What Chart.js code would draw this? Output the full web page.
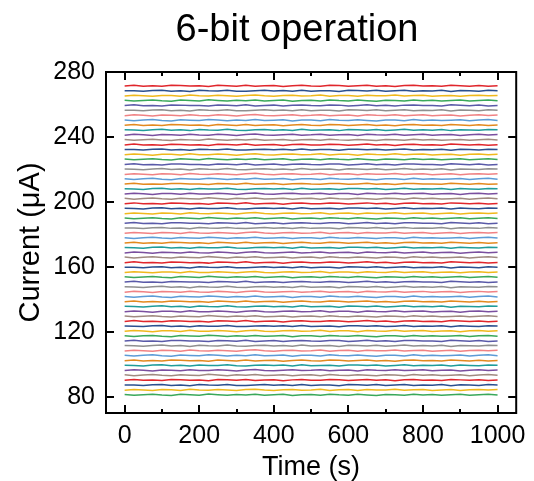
<!DOCTYPE html>
<html>
<head>
<meta charset="utf-8">
<title>6-bit operation</title>
<script src="https://cdn.jsdelivr.net/npm/chart.js@4"></script>
<style>
  html, body { margin: 0; padding: 0; background: #fff; }
  #wrap { width: 534px; height: 481px; }
</style>
</head>
<body>
<div id="wrap"><canvas id="chart" width="534" height="481"></canvas></div>
<script>
// sampling times (s)
const times = [0, 25, 50, 75, 100, 125, 150, 175, 200, 225, 250, 275, 300, 325, 350, 375, 400,
  425, 450, 475, 500, 525, 550, 575, 600, 625, 650, 675, 700, 725, 750, 775, 800, 825, 850,
  875, 900, 925, 950, 975, 1000];

// 64 current levels (uA), bottom to top
const levels = [81.2, 84.2, 87.2, 90.3, 93.3, 96.3, 99.3, 102.3, 105.4, 108.4, 111.4, 114.4,
  117.4, 120.5, 123.5, 126.5, 129.5, 132.5, 135.6, 138.6, 141.6, 144.6, 147.6, 150.7, 153.7,
  156.7, 159.7, 162.7, 165.8, 168.8, 171.8, 174.8, 177.8, 180.9, 183.9, 186.9, 189.9, 192.9,
  196.0, 199.0, 202.0, 205.0, 208.0, 211.1, 214.1, 217.1, 220.1, 223.1, 226.2, 229.2, 232.2,
  235.2, 238.2, 241.3, 244.3, 247.3, 250.3, 253.3, 256.4, 259.4, 262.4, 265.4, 268.4, 271.5];

// read-out fluctuation around each level (uA)
const ripple0 = [0.2, -0.3, 0.1, 0.4, -0.1, -0.4, 0.3, 0.0, -0.2, 0.5, 0.1, -0.3, 0.2, -0.1, 0.4,
  -0.2, 0.0, 0.3, -0.4, 0.1, 0.2, -0.3, 0.4, 0.0, -0.2, 0.3, -0.1, -0.4, 0.2, 0.1, -0.3, 0.4,
  -0.1, 0.2, -0.2, 0.0, 0.3, -0.3, 0.1, 0.4, -0.1];
const ripple1 = [-0.2, 0.3, 0.0, -0.4, 0.2, 0.1, -0.3, 0.4, -0.1, -0.2, 0.3, 0.0, -0.4, 0.2, 0.5,
  -0.1, -0.3, 0.1, 0.3, -0.2, 0.0, 0.4, -0.3, 0.1, 0.2, -0.4, 0.3, 0.0, -0.1, 0.4, -0.2, 0.1,
  0.3, -0.3, 0.0, 0.2, -0.4, 0.1, 0.3, -0.1, 0.2];
const ripple2 = [0.1, 0.0, -0.3, 0.2, 0.4, -0.2, 0.1, -0.4, 0.3, 0.0, -0.1, 0.4, -0.2, -0.3, 0.1,
  0.3, -0.1, 0.2, -0.3, 0.4, -0.2, 0.0, 0.1, -0.4, 0.3, 0.2, -0.1, 0.3, -0.3, 0.0, 0.4, -0.2,
  0.1, -0.1, 0.3, -0.4, 0.2, 0.0, -0.2, 0.3, 0.1];
const ripple3 = [-0.1, 0.4, -0.2, 0.0, -0.3, 0.3, 0.2, -0.1, 0.0, -0.4, 0.3, 0.1, -0.2, 0.4, -0.3,
  0.0, 0.2, -0.4, 0.1, 0.3, -0.1, -0.2, 0.3, 0.2, -0.3, 0.0, 0.4, -0.2, 0.1, -0.4, 0.2, 0.3,
  -0.1, 0.0, -0.3, 0.4, 0.1, -0.2, 0.2, -0.3, 0.0];
const ripples = [ripple0, ripple1, ripple2, ripple3];

// colour cycle, bottom to top
const palette = ["#3aa85a", "#f0b81c", "#2b4f8f", "#e0262c", "#a08a80", "#7a4f9f",
  "#1f9c9a", "#e3891f", "#5c9bd6", "#f08284", "#8f8f8f", "#5a5aa8"];

const xTicks = [0, 200, 400, 600, 800, 1000];
const xMinor = [100, 300, 500, 700, 900];
const yTicks = [80, 120, 160, 200, 240, 280];

const FONT = "'Liberation Sans', Arial, sans-serif";

const datasets = levels.map((lv, i) => {
  const r = ripples[i % ripples.length];
  return {
    label: "L" + i,
    data: times.map((t, k) => ({ x: t, y: lv + (r[k] || 0) })),
    borderColor: palette[i % palette.length],
    borderWidth: 1.5,
    pointRadius: 0,
    tension: 0,
    fill: false,
  };
});

// frame, inward ticks and the title
const framePlugin = {
  id: "frame",
  afterDraw(chart) {
    const ctx = chart.ctx;
    const { left, right, top, bottom } = chart.chartArea;
    const xs = chart.scales.x;
    const ys = chart.scales.y;
    ctx.save();
    ctx.strokeStyle = "#000";
    ctx.lineWidth = 2;
    ctx.beginPath();
    xTicks.forEach((v) => {
      const px = Math.round(xs.getPixelForValue(v));
      ctx.moveTo(px, bottom); ctx.lineTo(px, bottom - 8);
      ctx.moveTo(px, top); ctx.lineTo(px, top + 8);
    });
    xMinor.forEach((v) => {
      const px = Math.round(xs.getPixelForValue(v));
      ctx.moveTo(px, bottom); ctx.lineTo(px, bottom - 4);
      ctx.moveTo(px, top); ctx.lineTo(px, top + 4);
    });
    yTicks.forEach((v) => {
      const py = Math.round(ys.getPixelForValue(v));
      ctx.moveTo(left, py); ctx.lineTo(left + 8, py);
      ctx.moveTo(right, py); ctx.lineTo(right - 8, py);
    });
    ctx.stroke();
    ctx.strokeRect(left, top, right - left, bottom - top);

    ctx.fillStyle = "#000";
    ctx.font = "38px " + FONT;
    ctx.textAlign = "center";
    ctx.textBaseline = "alphabetic";
    ctx.fillText("6-bit operation", 297, 41);
    ctx.restore();
  },
};

new Chart(document.getElementById("chart"), {
  type: "line",
  data: { datasets },
  options: {
    responsive: false,
    animation: false,
    layout: { padding: { left: 10, right: 14, top: 72, bottom: 0 } },
    plugins: { legend: { display: false }, title: { display: false }, tooltip: { enabled: false } },
    scales: {
      x: {
        type: "linear",
        min: -50,
        max: 1050,
        grid: { display: false, drawTicks: false },
        border: { display: false },
        afterBuildTicks: (s) => { s.ticks = xTicks.map((v) => ({ value: v })); },
        afterFit: (s) => { s.height = 68; },
        ticks: {
          padding: 8,
          color: "#000",
          font: { family: FONT, size: 25 },
          maxRotation: 0,
          callback: (v) => String(v),
        },
        title: {
          display: true,
          text: "Time (s)",
          color: "#000",
          font: { family: FONT, size: 27, lineHeight: 1 },
          padding: { top: 0, bottom: 0 },
        },
      },
      y: {
        type: "linear",
        min: 70,
        max: 280,
        grid: { display: false, drawTicks: false },
        border: { display: false },
        afterBuildTicks: (s) => { s.ticks = yTicks.map((v) => ({ value: v })); },
        afterFit: (s) => { s.width = 96; },
        ticks: {
          padding: 11,
          color: "#000",
          font: { family: FONT, size: 25 },
          callback: (v) => String(v),
        },
        title: {
          display: true,
          text: "Current (\u03bcA)",
          color: "#000",
          font: { family: FONT, size: 29, lineHeight: 1 },
          padding: { top: 6, bottom: 6 },
        },
      },
    },
  },
  plugins: [framePlugin],
});
</script>
</body>
</html>
